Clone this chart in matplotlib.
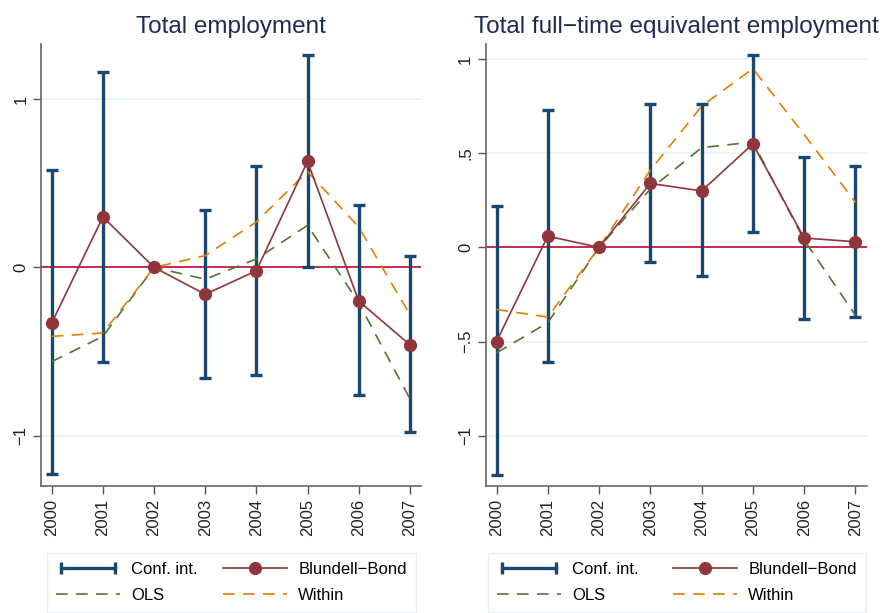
import numpy as np
import matplotlib
matplotlib.use("Agg")
import matplotlib.pyplot as plt
from matplotlib.lines import Line2D
from matplotlib.legend_handler import HandlerLine2D

plt.rcParams['font.family'] = ['Liberation Sans', 'DejaVu Sans']

years = [2000, 2001, 2002, 2003, 2004, 2005, 2006, 2007]
ci_years = [2000, 2001, 2003, 2004, 2005, 2006, 2007]

# Total employment
emp_bb = [-0.33, 0.30, 0.0, -0.16, -0.02, 0.63, -0.20, -0.46]
emp_ols = [-0.56, -0.41, 0.0, -0.07, 0.05, 0.25, -0.21, -0.78]
emp_within = [-0.41, -0.39, 0.0, 0.07, 0.27, 0.57, 0.24, -0.28]
emp_ci_lo = [-1.23, -0.56, -0.66, -0.64, 0.0, -0.76, -0.98]
emp_ci_hi = [0.58, 1.16, 0.34, 0.60, 1.26, 0.37, 0.07]

# Total full-time equivalent employment
fte_bb = [-0.50, 0.06, 0.0, 0.34, 0.30, 0.55, 0.05, 0.03]
fte_ols = [-0.56, -0.40, 0.0, 0.31, 0.53, 0.56, 0.04, -0.36]
fte_within = [-0.33, -0.37, 0.0, 0.41, 0.75, 0.95, 0.60, 0.24]
fte_ci_lo = [-1.21, -0.61, -0.08, -0.15, 0.08, -0.38, -0.37]
fte_ci_hi = [0.22, 0.73, 0.76, 0.76, 1.02, 0.48, 0.43]

titles = ["Total employment", "Total full\u2212time equivalent employment"]

C_CI = "#1a476f"
C_BB = "#90353b"
C_OLS = "#55752f"
C_WIN = "#e37e00"
C_ZERO = "#c10534"
C_TITLE = "#1e2b52"

fig = plt.figure(figsize=(8.88, 6.13), dpi=100)
ax1 = fig.add_axes([0.0462, 0.207, 0.428, 0.721])
ax2 = fig.add_axes([0.547, 0.207, 0.429, 0.721])

panels = [
    (ax1, emp_bb, emp_ols, emp_within, emp_ci_lo, emp_ci_hi,
     (-1.30, 1.327), [-1, 0, 1], ["\u22121", "0", "1"]),
    (ax2, fte_bb, fte_ols, fte_within, fte_ci_lo, fte_ci_hi,
     (-1.268, 1.08), [-1, -0.5, 0, 0.5, 1], ["\u22121", "\u2212.5", "0", ".5", "1"]),
]

for i, (ax, bb, ols, within, lo, hi, ylim, yt, ytl) in enumerate(panels):
    for t in yt:
        if t != 0:
            ax.axhline(t, color="#eaf2f3", lw=1.2, zorder=0)
    ax.axhline(0, color=C_ZERO, lw=1.2, zorder=1)
    lo = np.array(lo)
    hi = np.array(hi)
    ax.vlines(ci_years, lo, hi, color=C_CI, lw=2.4, zorder=2)
    ax.plot(ci_years, lo, ls="none", marker="_", ms=9, mew=2.4, color=C_CI, zorder=2)
    ax.plot(ci_years, hi, ls="none", marker="_", ms=9, mew=2.4, color=C_CI, zorder=2)
    ax.plot(years, ols, color=C_OLS, lw=1.2, dashes=(7, 5), zorder=3)
    ax.plot(years, within, color=C_WIN, lw=1.2, dashes=(7, 5), zorder=3)
    ax.plot(years, bb, color=C_BB, lw=1.2, marker="o", ms=8.5, zorder=4)

    ax.set_xlim(1999.79, 2007.22)
    ax.set_ylim(*ylim)
    ax.set_xticks(years)
    ax.set_xticklabels([str(y) for y in years], rotation=90, fontsize=12)
    ax.set_yticks(yt)
    ax.set_yticklabels(ytl, rotation=90, fontsize=12, va="center")
    for s in ["top", "right"]:
        ax.spines[s].set_visible(False)
    for s in ["left", "bottom"]:
        ax.spines[s].set_color("#666666")
        ax.spines[s].set_linewidth(1.2)
    ax.tick_params(colors="#222222", length=5.5, width=1, color="#555555")
    ax.set_title(titles[i], fontsize=17.5, color=C_TITLE, pad=8)

    h_ci = Line2D([0, 1], [0, 0], color=C_CI, lw=2.4, marker="|", ms=8, mew=2.4,
                  markevery=[0, 1])
    h_bb = Line2D([0], [0], color=C_BB, lw=1.2, marker="o", ms=8.5)
    h_ols = Line2D([0], [0], color=C_OLS, lw=1.2, dashes=(7, 5))
    h_win = Line2D([0], [0], color=C_WIN, lw=1.2, dashes=(7, 5))
    x0 = 47 / 888 if i == 0 else 488 / 888
    x1 = 416 / 888 if i == 0 else 866 / 888
    leg = fig.legend([h_ci, h_ols, h_bb, h_win],
                     ["Conf. int.", "OLS", "Blundell\u2212Bond", "Within"],
                     ncol=2, loc="lower left",
                     bbox_to_anchor=(x0, 1 / 613, x1 - x0, 59 / 613),
                     mode="expand", fontsize=12, frameon=True, fancybox=False,
                     edgecolor="#e3ecee", borderpad=0.55, borderaxespad=0,
                     handlelength=3.8, handletextpad=0.7,
                     labelspacing=0.65, columnspacing=1.5,
                     handler_map={h_ci: HandlerLine2D(numpoints=2)})
    leg.get_frame().set_linewidth(1.0)

fig.savefig("out.png", dpi=100)
